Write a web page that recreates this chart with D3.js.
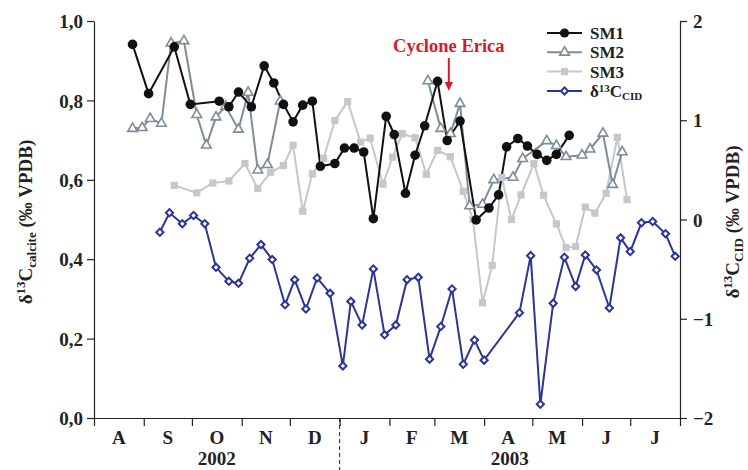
<!DOCTYPE html>
<html><head><meta charset="utf-8">
<script src="https://cdn.jsdelivr.net/npm/d3@7"></script>
<style>
body{margin:0;background:#fff;}
svg text{font-family:"Liberation Serif","Times New Roman",serif;font-weight:bold;}
</style></head>
<body><svg id="c" width="748" height="470"></svg>
<script>
// ---- data ----
const monthLabels = ["A","S","O","N","D","J","F","M","A","M","J","J"];
const yearLabels = ["2002","2003"];
const leftTicks = [0,0.2,0.4,0.6,0.8,1.0];
const rightTicks = [-2,-1,0,1,2];

const sm1Dates = ["2002-08-25","2002-09-04","2002-09-20","2002-09-30","2002-10-18","2002-10-24","2002-10-30","2002-11-07","2002-11-15","2002-11-21","2002-11-27","2002-12-03","2002-12-09","2002-12-15","2002-12-20","2002-12-29","2003-01-04","2003-01-10","2003-01-16","2003-01-22","2003-01-30","2003-02-04","2003-02-11","2003-02-17","2003-02-23","2003-03-03","2003-03-09","2003-03-17","2003-03-27","2003-04-04","2003-04-10","2003-04-15","2003-04-22","2003-04-28","2003-05-04","2003-05-10","2003-05-16","2003-05-24"];
const sm1Values = [0.941,0.817,0.935,0.790,0.798,0.784,0.821,0.784,0.887,0.844,0.790,0.746,0.788,0.798,0.634,0.641,0.680,0.680,0.670,0.502,0.760,0.714,0.566,0.662,0.736,0.848,0.699,0.748,0.499,0.529,0.562,0.683,0.704,0.685,0.664,0.649,0.664,0.712];

const sm2Dates = ["2002-08-25","2002-08-31","2002-09-05","2002-09-12","2002-09-18","2002-09-26","2002-10-04","2002-10-10","2002-10-16","2002-10-22","2002-10-30","2002-11-05","2002-11-11","2002-11-17","2002-11-25",null,"2003-02-25","2003-03-05","2003-03-11","2003-03-17","2003-03-23","2003-03-31","2003-04-07","2003-04-19","2003-04-25","2003-05-10","2003-05-16","2003-05-22","2003-06-01","2003-06-06","2003-06-14","2003-06-20","2003-06-26"];
const sm2Values = [0.729,0.731,0.754,0.742,0.944,0.950,0.764,0.687,0.758,0.785,0.727,0.820,0.624,0.638,0.798,null,0.849,0.729,0.716,0.792,0.534,0.538,0.600,0.606,0.653,0.698,0.686,0.658,0.662,0.677,0.717,0.588,0.670];

const sm3Dates = ["2002-09-20","2002-10-04","2002-10-14","2002-10-24","2002-11-03","2002-11-11","2002-11-19","2002-11-27","2002-12-03","2002-12-09","2002-12-15","2002-12-22","2002-12-29","2003-01-06","2003-01-14","2003-01-20","2003-01-28","2003-02-03","2003-02-09","2003-02-17","2003-02-24","2003-03-03","2003-03-11","2003-03-19","2003-03-25","2003-03-31","2003-04-06","2003-04-12","2003-04-18","2003-04-24","2003-05-02","2003-05-08","2003-05-16","2003-05-22","2003-05-28","2003-06-03","2003-06-09","2003-06-16","2003-06-23","2003-06-29"];
const sm3Values = [0.586,0.567,0.592,0.597,0.641,0.578,0.619,0.636,0.687,0.521,0.615,0.654,0.749,0.797,0.695,0.705,0.589,0.657,0.716,0.706,0.614,0.674,0.658,0.571,0.500,0.290,0.384,0.606,0.500,0.562,0.641,0.561,0.489,0.429,0.432,0.531,0.516,0.566,0.707,0.550];

const cidDates = ["2002-09-11","2002-09-17","2002-09-25","2002-10-02","2002-10-09","2002-10-16","2002-10-24","2002-10-30","2002-11-06","2002-11-13","2002-11-20","2002-11-28","2002-12-04","2002-12-11","2002-12-18","2002-12-26","2003-01-03","2003-01-08","2003-01-15","2003-01-22","2003-01-29","2003-02-05","2003-02-12","2003-02-19","2003-02-26","2003-03-05","2003-03-12","2003-03-19","2003-03-26","2003-04-01","2003-04-23","2003-04-30","2003-05-06","2003-05-14","2003-05-21","2003-05-28","2003-06-03","2003-06-10","2003-06-18","2003-06-25","2003-07-01","2003-07-08","2003-07-15","2003-07-23","2003-07-29"];
const cidValues = [-0.128,0.068,-0.043,0.040,-0.043,-0.482,-0.623,-0.643,-0.391,-0.253,-0.404,-0.859,-0.606,-0.902,-0.589,-0.744,-1.475,-0.825,-1.064,-0.498,-1.162,-1.064,-0.606,-0.583,-1.407,-1.078,-0.700,-1.458,-1.214,-1.417,-0.939,-0.364,-1.862,-0.845,-0.381,-0.674,-0.357,-0.508,-0.892,-0.185,-0.323,-0.033,-0.020,-0.144,-0.371];

const cycloneDate = "2003-03-10";
const cycloneLabel = "Cyclone Erica";

// ---- chart ----
const parse = d3.timeParse("%Y-%m-%d");
const svg = d3.select("#c");
const L = 94, R = 680, T = 21, B = 418;
const x = d3.scaleTime().domain([parse("2002-08-01"), parse("2003-08-01")]).range([L, R]);
const yL = d3.scaleLinear().domain([0, 1]).range([B, T]);
const yR = d3.scaleLinear().domain([-2, 2]).range([B, T]);

function zip(ds, vs){ return ds.map((d,i)=>({d: d?parse(d):null, v: vs[i]})); }
const sm1 = zip(sm1Dates, sm1Values), sm2 = zip(sm2Dates, sm2Values),
      sm3 = zip(sm3Dates, sm3Values), cid = zip(cidDates, cidValues);

const C1 = "#111111", C2 = "#7d8c97", C3 = "#c5c7ca", C4 = "#2c3593";

// axes
const fmt = d => d3.format(".1f")(d).replace(".", ",");
const gl = svg.append("g").attr("transform", `translate(${L},0)`)
  .call(d3.axisLeft(yL).tickValues(leftTicks).tickFormat(fmt).tickSizeOuter(0).tickSizeInner(7).tickPadding(4));
const gr = svg.append("g").attr("transform", `translate(${R},0)`)
  .call(d3.axisRight(yR).tickValues(rightTicks).tickFormat(d3.format("d")).tickSizeOuter(0).tickSizeInner(7).tickPadding(6));
const months = d3.timeMonth.range(parse("2002-08-01"), parse("2003-08-02"));
const gb = svg.append("g").attr("transform", `translate(0,${B})`)
  .call(d3.axisBottom(x).tickValues(months).tickFormat("").tickSizeOuter(0).tickSizeInner(8));
[gl, gr, gb].forEach(g => {
  g.selectAll("path,line").attr("stroke", "#222").attr("stroke-width", 1.2);
  g.selectAll("text").attr("fill", "#222").style("font-size", "19px")
   .style("font-family", '"Liberation Serif",serif').style("font-weight", "bold");
});
gl.selectAll("text").attr("dy", "0.35em");
gr.selectAll("text").attr("dy", "0.35em");

// month labels
svg.append("g").selectAll("text").data(months.slice(0, 12)).join("text")
  .attr("x", (d,i) => (x(d) + x(months[i+1])) / 2).attr("y", 444)
  .attr("text-anchor", "middle").style("font-size", "19px").attr("fill", "#222")
  .text((d,i) => monthLabels[i]);
const jan = parse("2003-01-01");
svg.append("text").attr("x", (x.range()[0] + x(jan)) / 2).attr("y", 465).attr("text-anchor", "middle")
  .style("font-size", "19px").attr("fill", "#222").text(yearLabels[0]);
svg.append("text").attr("x", (x(jan) + x.range()[1]) / 2).attr("y", 465).attr("text-anchor", "middle")
  .style("font-size", "19px").attr("fill", "#222").text(yearLabels[1]);
svg.append("line").attr("x1", x(jan)).attr("x2", x(jan)).attr("y1", B).attr("y2", 470)
  .attr("stroke", "#222").attr("stroke-width", 1).attr("stroke-dasharray", "4,3");

// axis titles
const lt = svg.append("text").attr("transform", "translate(32,222) rotate(-90)")
  .attr("text-anchor", "middle").style("font-size", "19px").attr("fill", "#222");
lt.append("tspan").text("δ");
lt.append("tspan").attr("dy", -7).style("font-size", "13px").text("13");
lt.append("tspan").attr("dy", 7).text("C");
lt.append("tspan").attr("dy", 4).style("font-size", "13px").text("calcite");
lt.append("tspan").attr("dy", -4).text(" (‰ VPDB)");
const rt = svg.append("text").attr("transform", "translate(739,222) rotate(-90)")
  .attr("text-anchor", "middle").style("font-size", "19px").attr("fill", "#222");
rt.append("tspan").text("δ");
rt.append("tspan").attr("dy", -7).style("font-size", "13px").text("13");
rt.append("tspan").attr("dy", 7).text("C");
rt.append("tspan").attr("dy", 4).style("font-size", "13px").text("CID");
rt.append("tspan").attr("dy", -4).text(" (‰ VPDB)");

// lines
const lineL = d3.line().defined(p => p.d !== null).x(p => x(p.d)).y(p => yL(p.v));
const lineR = d3.line().x(p => x(p.d)).y(p => yR(p.v));
svg.append("path").datum(sm3).attr("d", lineL).attr("fill", "none").attr("stroke", C3).attr("stroke-width", 2);
svg.append("path").datum(sm2).attr("d", lineL).attr("fill", "none").attr("stroke", C2).attr("stroke-width", 2);
svg.append("path").datum(sm1).attr("d", lineL).attr("fill", "none").attr("stroke", C1).attr("stroke-width", 2);
svg.append("path").datum(cid).attr("d", lineR).attr("fill", "none").attr("stroke", C4).attr("stroke-width", 2);

// markers
const tri = d3.symbol().type(d3.symbolTriangle).size(40)();
const sq = d3.symbol().type(d3.symbolSquare).size(52)();
const dia = d3.symbol().type(d3.symbolSquare).size(26)();
svg.append("g").selectAll("path").data(sm3).join("path").attr("d", sq)
  .attr("transform", p => `translate(${x(p.d)},${yL(p.v)})`).attr("fill", C3);
svg.append("g").selectAll("path").data(sm2.filter(p => p.d)).join("path").attr("d", tri)
  .attr("transform", p => `translate(${x(p.d)},${yL(p.v)})`).attr("fill", "#fff").attr("stroke", C2).attr("stroke-width", 1.6);
svg.append("g").selectAll("circle").data(sm1).join("circle")
  .attr("cx", p => x(p.d)).attr("cy", p => yL(p.v)).attr("r", 4.8).attr("fill", C1);
svg.append("g").selectAll("path").data(cid).join("path").attr("d", dia)
  .attr("transform", p => `translate(${x(p.d)},${yR(p.v)}) rotate(45)`).attr("fill", "#fff").attr("stroke", C4).attr("stroke-width", 2);

// cyclone annotation
const cx = x(parse(cycloneDate));
svg.append("text").attr("x", cx).attr("y", 52).attr("text-anchor", "middle")
  .style("font-size", "18.5px").attr("fill", "#d7192b").text(cycloneLabel);
svg.append("line").attr("x1", cx).attr("x2", cx).attr("y1", 58).attr("y2", 84)
  .attr("stroke", "#d7192b").attr("stroke-width", 2);
svg.append("path").attr("d", `M${cx-4},${82}L${cx+4},${82}L${cx},${91}Z`).attr("fill", "#d7192b");

// legend
const leg = [
  {name: "SM1", c: C1, m: "circle"}, {name: "SM2", c: C2, m: "tri"},
  {name: "SM3", c: C3, m: "sq"}, {name: "CID", c: C4, m: "dia"}];
leg.forEach((e, i) => {
  const yy = 33 + i * 19.3;
  const g = svg.append("g");
  g.append("line").attr("x1", 547).attr("x2", 582).attr("y1", yy).attr("y2", yy).attr("stroke", e.c).attr("stroke-width", 2);
  if (e.m === "circle") g.append("circle").attr("cx", 564.5).attr("cy", yy).attr("r", 4.6).attr("fill", e.c);
  if (e.m === "tri") g.append("path").attr("d", tri).attr("transform", `translate(564.5,${yy})`).attr("fill", "#fff").attr("stroke", e.c).attr("stroke-width", 1.6);
  if (e.m === "sq") g.append("path").attr("d", sq).attr("transform", `translate(564.5,${yy})`).attr("fill", e.c);
  if (e.m === "dia") g.append("path").attr("d", dia).attr("transform", `translate(564.5,${yy}) rotate(45)`).attr("fill", "#fff").attr("stroke", e.c).attr("stroke-width", 2);
  const t = g.append("text").attr("x", 590).attr("y", yy + 6).style("font-size", "17px").attr("fill", "#222");
  if (e.name === "CID") {
    t.append("tspan").text("δ");
    t.append("tspan").attr("dy", -5).style("font-size", "11px").text("13");
    t.append("tspan").attr("dy", 5).text("C");
    t.append("tspan").attr("dy", 3).style("font-size", "11px").text("CID");
  } else t.text(e.name);
});
</script></body></html>
